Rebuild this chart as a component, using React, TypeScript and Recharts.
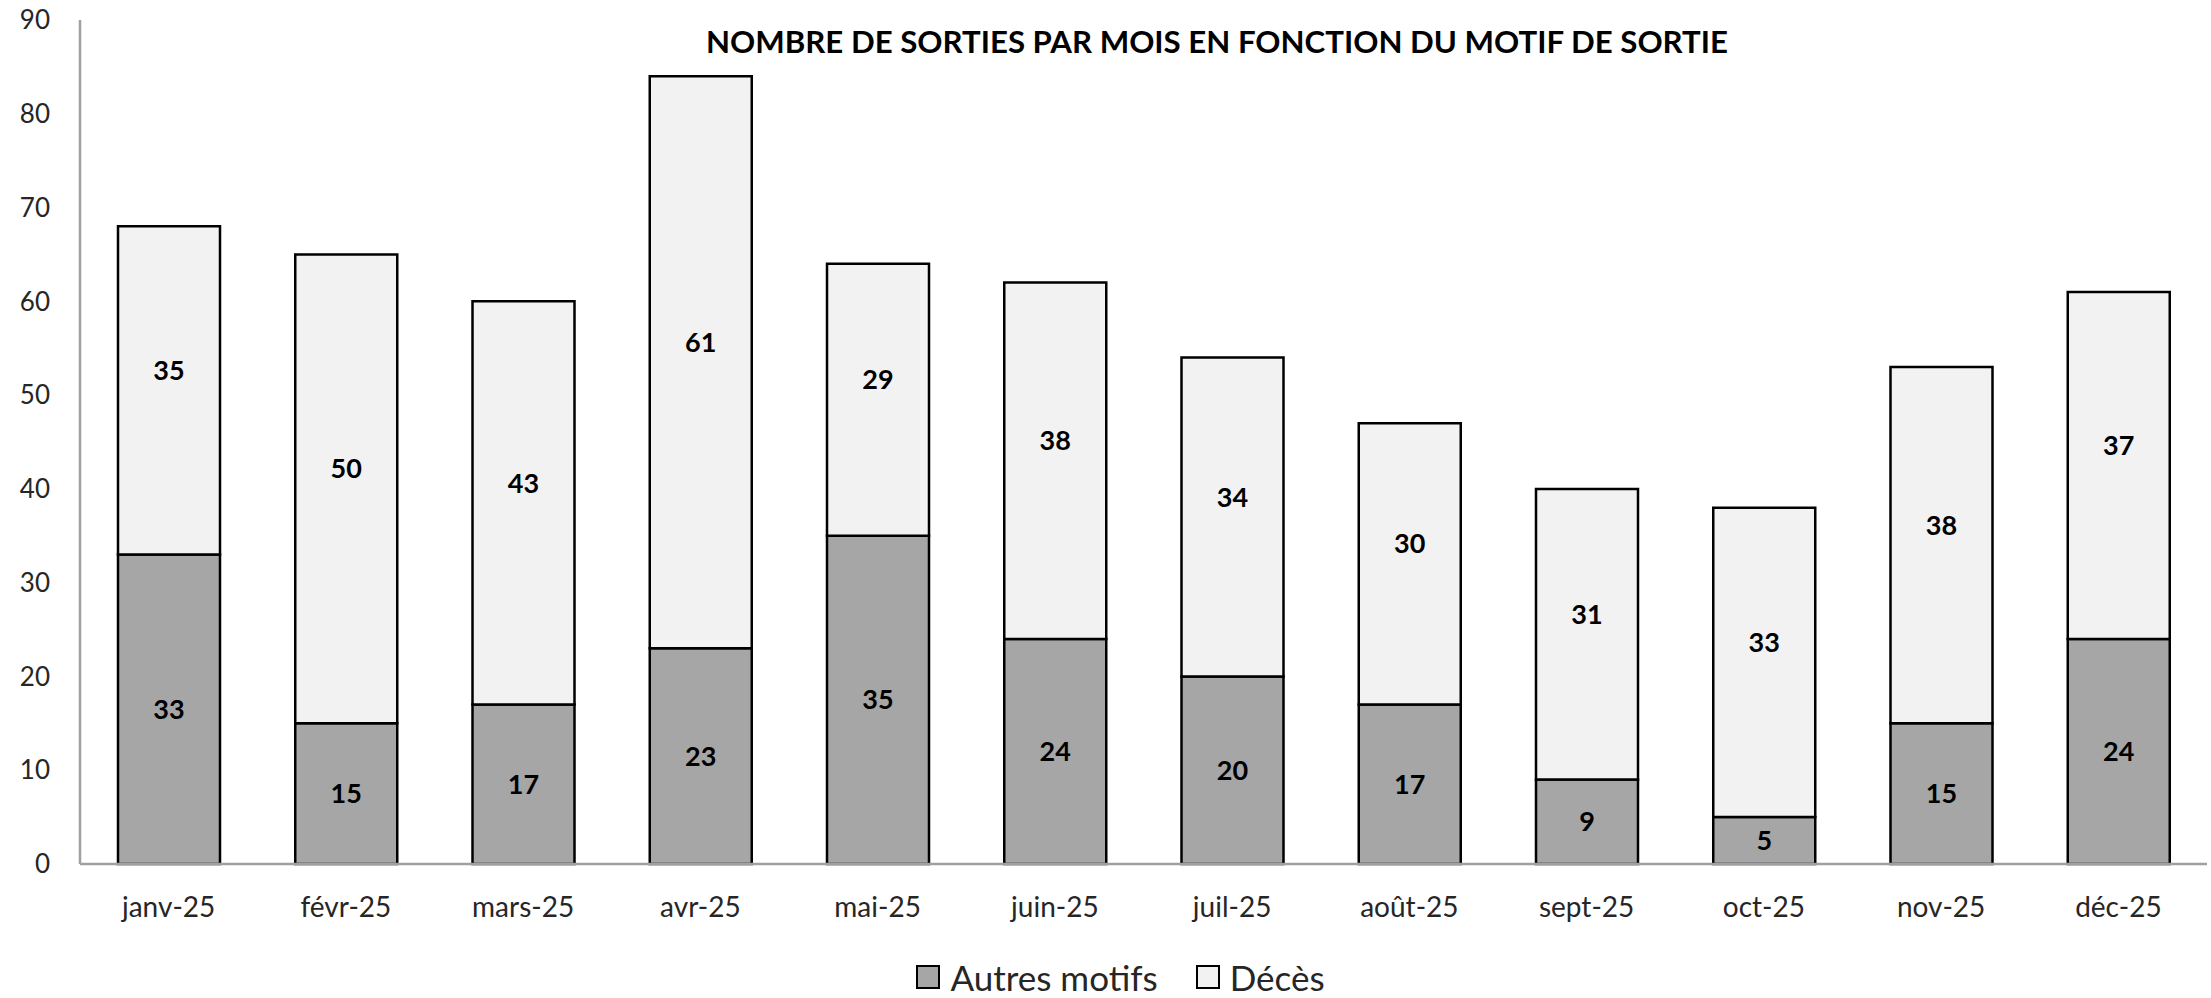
import React from "react";
import { BarChart, Bar, XAxis, YAxis, Legend, LabelList } from "recharts";

const months = [
  "janv-25", "févr-25", "mars-25", "avr-25", "mai-25", "juin-25",
  "juil-25", "août-25", "sept-25", "oct-25", "nov-25", "déc-25",
];
const autresMotifs = [33, 15, 17, 23, 35, 24, 20, 17, 9, 5, 15, 24];
const deces = [35, 50, 43, 61, 29, 38, 34, 30, 31, 33, 38, 37];
const yTicks = [0, 10, 20, 30, 40, 50, 60, 70, 80, 90];

const data = months.map((month, i) => ({
  month,
  "Autres motifs": autresMotifs[i],
  "Décès": deces[i],
}));

const FONT = "Lato, 'Open Sans', sans-serif";
const labelStyle = { fontSize: 27, fontWeight: 700, fill: "#000", fontFamily: FONT };

export default function App() {
  return (
    <div style={{ position: "absolute", left: 0, top: 0, width: 2211, height: 998, background: "#fff", fontFamily: FONT }}>
      <BarChart
        width={2211}
        height={998}
        data={data}
        margin={{ top: 20, right: 4, left: 0, bottom: 74 }}
      >
        <XAxis
          dataKey="month"
          height={60}
          tickLine={false}
          tickSize={0}
          tickMargin={33}
          axisLine={{ stroke: "#a0a0a0", strokeWidth: 2.5 }}
          tick={{ fontSize: 28, fill: "#262626", fontFamily: FONT }}
          interval={0}
        />
        <YAxis
          width={80}
          domain={[0, 90]}
          ticks={yTicks}
          tickLine={false}
          tickSize={0}
          tickMargin={30}
          axisLine={{ stroke: "#a0a0a0", strokeWidth: 2.5 }}
          tick={{ fontSize: 26, fill: "#262626", fontFamily: FONT }}
        />
        <Legend
          layout="horizontal"
          verticalAlign="middle"
          align="center"
          wrapperStyle={{ top: 956, left: 0, width: 2211, bottom: "auto" }}
          content={() => (
            <div style={{ display: "flex", justifyContent: "center", alignItems: "center", gap: 38, fontSize: 35, color: "#262626", fontFamily: FONT, marginLeft: 30 }}>
              {[
                { name: "Autres motifs", fill: "#a6a6a6" },
                { name: "Décès", fill: "#f2f2f2" },
              ].map((e) => (
                <div key={e.name} style={{ display: "flex", alignItems: "center", gap: 10 }}>
                  <span style={{ display: "inline-block", width: 20, height: 20, background: e.fill, border: "2.5px solid #000" }} />
                  <span>{e.name}</span>
                </div>
              ))}
            </div>
          )}
        />
        <Bar dataKey="Autres motifs" stackId="a" fill="#a6a6a6" stroke="#000" strokeWidth={2.5} barSize={102} isAnimationActive={false}>
          <LabelList dataKey="Autres motifs" position="center" style={labelStyle} />
        </Bar>
        <Bar dataKey="Décès" stackId="a" fill="#f2f2f2" stroke="#000" strokeWidth={2.5} barSize={102} isAnimationActive={false}>
          <LabelList dataKey="Décès" position="center" offset={0} dy={-20} style={labelStyle} />
        </Bar>
      </BarChart>
      <svg width={2211} height={80} style={{ position: "absolute", left: 0, top: 0, pointerEvents: "none" }}>
        <text
          x={706}
          y={53}
          textLength={1022}
          lengthAdjust="spacingAndGlyphs"
          style={{ fontSize: 30, fontWeight: 700, fill: "#000", fontFamily: FONT }}
        >
          NOMBRE DE SORTIES PAR MOIS EN FONCTION DU MOTIF DE SORTIE
        </text>
      </svg>
    </div>
  );
}
